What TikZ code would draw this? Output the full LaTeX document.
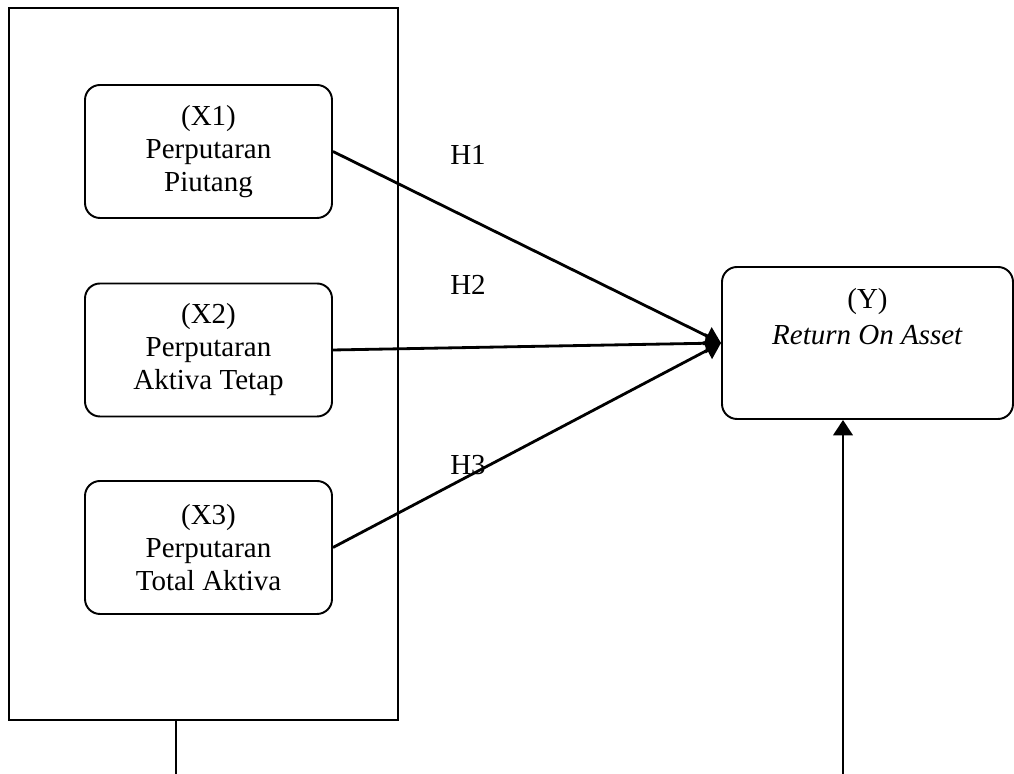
\documentclass[tikz,border=0pt]{standalone}
\usepackage{fontspec}
\setmainfont{Liberation Serif}
\usepackage{tikz}
\usetikzlibrary{shapes,arrows.meta,positioning,calc}
\tikzset{
  varbox/.style={draw,line width=1.1pt,rounded corners=0.3cm,minimum width=4.94cm,minimum height=2.66cm,
    align=center,inner sep=0pt,font=\fontsize{16.5}{18.8}\selectfont},
  hyp/.style={font=\fontsize{16.5}{18.8}\selectfont},
  link/.style={line width=1.6pt,-{Triangle[length=3.1mm,width=3.9mm]}}
}

\begin{document}
\begin{tikzpicture}
  \useasboundingbox (0,0) rectangle (20.28,15.48);

  % Frame round the independent variables
  \node[draw,line width=1.1pt,minimum width=7.78cm,minimum height=14.24cm,inner sep=0pt] (frame) at (4.07,8.20) {};

  % Independent variables
  \node[varbox] (X1) at (4.17,12.45) {(X1)\\Perputaran\\Piutang};
  \node[varbox] (X2) at (4.17,8.48) {(X2)\\Perputaran\\Aktiva Tetap};
  \node[varbox] (X3) at (4.17,4.53) {(X3)\\Perputaran\\Total Aktiva};

  % Dependent variable
  \node[varbox,minimum width=5.82cm,minimum height=3.04cm] (Y) at (17.35,8.62) {(Y)\\[2pt]\textit{Return On Asset}\\[6pt]\strut};

  % Hypotheses
  \draw[link] (X1.east) -- (Y.west);
  \draw[link] (X2.east) -- (Y.west);
  \draw[link] (X3.east) -- (Y.west);
  \node[hyp] (h1) at (9.36,12.38) {H1};
  \node[hyp] (h2) at (9.36,9.78) {H2};
  \node[hyp] (h3) at (9.36,6.18) {H3};

  % Lines from the bottom
  \coordinate (lb) at (3.52,0);
  \coordinate (rb) at (16.86,0);
  \draw[line width=0.9pt] (frame.south -| lb) -- (lb);
  \draw[link] (rb) -- (rb |- Y.south);
\end{tikzpicture}
\end{document}
